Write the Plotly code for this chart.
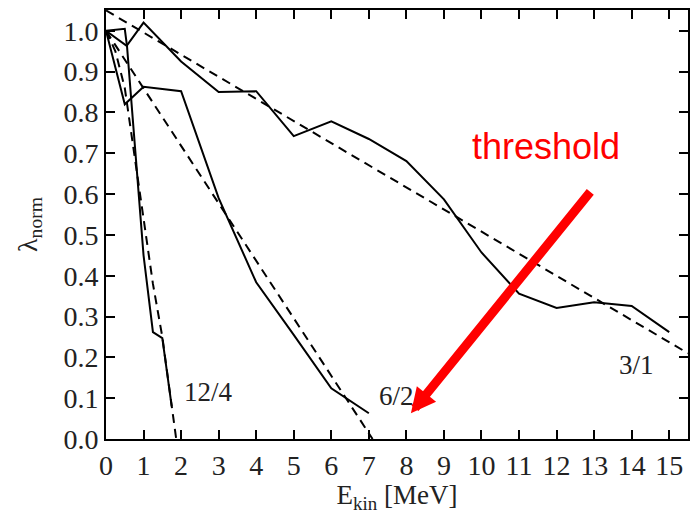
import plotly.graph_objects as go

# ---- data ----
x_31 = [0, 0.55, 1, 2, 3, 4, 5, 6, 7, 8, 9, 10, 11, 12, 13, 14, 15]
y_31 = [1.0, 0.963, 1.02, 0.925, 0.85, 0.852, 0.742, 0.778, 0.735, 0.681,
        0.587, 0.457, 0.356, 0.321, 0.335, 0.326, 0.262]
x_31_fit = [0, 15.5]
y_31_fit = [1.05, 0.21]

x_62 = [0, 0.5, 1, 2, 3, 4, 5, 6, 7]
y_62 = [1.0, 0.82, 0.863, 0.852, 0.59, 0.384, 0.255, 0.124, 0.063]
x_62_fit = [0, 7.1]
y_62_fit = [1.0, 0.0]

x_124 = [0, 0.5, 0.56, 1.0, 1.25, 1.5, 1.75]
y_124 = [1.0, 1.005, 0.962, 0.45, 0.262, 0.247, 0.08]
x_124_fit = [0, 0.25, 0.5, 0.75, 1.0, 1.25, 1.5, 1.75, 1.87]
y_124_fit = [1.0, 0.95, 0.86, 0.70, 0.55, 0.38, 0.25, 0.08, 0.0]

x_ticks = list(range(0, 16))
y_ticks = [0.0, 0.1, 0.2, 0.3, 0.4, 0.5, 0.6, 0.7, 0.8, 0.9, 1.0]

curve_labels = ["12/4", "6/2", "3/1"]
label_x = [2.73, 7.74, 14.12]
label_y = [0.116, 0.105, 0.182]

SERIF = "Liberation Serif, Times New Roman, serif"

fig = go.Figure()
solid = dict(color="black", width=2)
dashed = dict(color="black", width=2, dash="9px,6px")

for xs, ys in [(x_31, y_31), (x_62, y_62), (x_124, y_124)]:
    fig.add_trace(go.Scatter(x=xs, y=ys, mode="lines", line=solid,
                             showlegend=False, hoverinfo="skip"))
for xs, ys in [(x_31_fit, y_31_fit), (x_62_fit, y_62_fit), (x_124_fit, y_124_fit)]:
    fig.add_trace(go.Scatter(x=xs, y=ys, mode="lines", line=dashed,
                             showlegend=False, hoverinfo="skip"))

for t, lx, ly in zip(curve_labels, label_x, label_y):
    fig.add_annotation(x=lx, y=ly, text=t, showarrow=False,
                       font=dict(family=SERIF, size=27, color="#222"))

# threshold text and arrow
fig.add_annotation(x=11.73, y=0.717, text="threshold", showarrow=False,
                   font=dict(family="Liberation Sans, Arial, sans-serif",
                             size=36, color="#ff0000"))
fig.add_annotation(x=8.12, y=0.063, ax=12.93, ay=0.609,
                   xref="x", yref="y", axref="x", ayref="y",
                   text="", showarrow=True, arrowhead=2, arrowsize=0.55,
                   arrowwidth=9, arrowcolor="#ff0000", standoff=0)

axis_common = dict(showline=True, linecolor="black", linewidth=2,
                   mirror="ticks", ticks="inside", ticklen=9, tickwidth=2,
                   tickcolor="black", showgrid=False, zeroline=False,
                   tickfont=dict(family=SERIF, size=28, color="#222"))

fig.update_xaxes(range=[0, 15.5], tickvals=x_ticks,
                 ticktext=[str(v) for v in x_ticks],
                 title=dict(text="E<sub>kin</sub> [MeV]",
                            font=dict(family=SERIF, size=27, color="#222"),
                            standoff=7),
                 **axis_common)
fig.update_yaxes(range=[0, 1.051], tickvals=y_ticks,
                 ticktext=[f"{v:.1f}" for v in y_ticks],
                 title=dict(text="λ<sub>norm</sub>",
                            font=dict(family=SERIF, size=28, color="#222"),
                            standoff=18),
                 **axis_common)

fig.update_layout(width=698, height=514,
                  margin=dict(l=106, r=8, t=10, b=73),
                  paper_bgcolor="white", plot_bgcolor="white")

fig.write_html("out.html")
